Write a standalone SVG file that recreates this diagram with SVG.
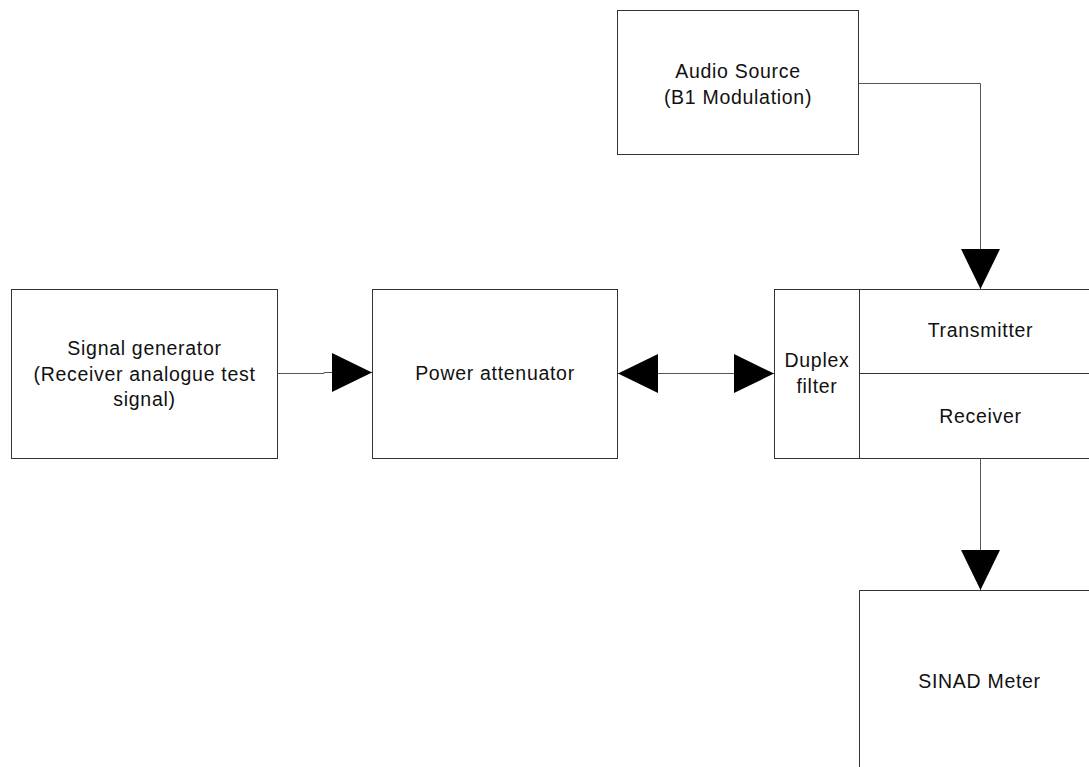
<svg xmlns="http://www.w3.org/2000/svg" width="1089" height="767" viewBox="0 0 1089 767">
<style>
  .box { fill: #ffffff; stroke: #333333; stroke-width: 1; }
  .div { fill: none; stroke: #333333; stroke-width: 1; }
  .conn { fill: none; stroke: #555555; stroke-width: 1; }
  .lbl { font-family: "Liberation Sans", Arial, sans-serif; font-size: 19.5px; letter-spacing: 0.7px; fill: #111111; text-anchor: middle; }
</style>
<defs>
  <marker id="arrow" markerUnits="userSpaceOnUse" markerWidth="40" markerHeight="39" viewBox="0 0 40 39" refX="40" refY="19.5" orient="auto-start-reverse">
    <path d="M0,0 L40,19.5 L0,39 Z" fill="#000000"/>
  </marker>
</defs>
<rect width="1089" height="767" fill="#ffffff"/>
<g id="signal-generator">
  <rect class="box" x="11.5" y="289.5" width="266" height="169"/>
  <text class="lbl" x="144.5" y="355">Signal generator</text>
  <text class="lbl" x="144.5" y="380.5">(Receiver analogue test</text>
  <text class="lbl" x="144.5" y="405.5">signal)</text>
</g>
<g id="power-attenuator">
  <rect class="box" x="372.5" y="289.5" width="245" height="169"/>
  <text class="lbl" x="495" y="380">Power attenuator</text>
</g>
<g id="audio-source">
  <rect class="box" x="617.5" y="10.5" width="241" height="144"/>
  <text class="lbl" x="738" y="78">Audio Source</text>
  <text class="lbl" x="738" y="104">(B1 Modulation)</text>
</g>
<g id="duplex-transceiver">
  <rect class="box" x="774.5" y="289.5" width="330" height="169"/>
  <path class="div" d="M859.5,289.5 V458.5 M859.5,373.5 H1104.5"/>
  <text class="lbl" x="817" y="367">Duplex</text>
  <text class="lbl" x="817" y="393">filter</text>
  <text class="lbl" x="980.5" y="337">Transmitter</text>
  <text class="lbl" x="980.5" y="422.5">Receiver</text>
</g>
<g id="sinad-meter">
  <rect class="box" x="859.5" y="590.5" width="260" height="200"/>
  <text class="lbl" x="979.5" y="688">SINAD Meter</text>
</g>
<g id="connectors">
  <path class="conn" d="M858.5,83.5 H980.5 V289" marker-end="url(#arrow)"/>
  <path class="conn" d="M277.5,373.5 H324 V372.5 H372" marker-end="url(#arrow)"/>
  <path class="conn" d="M618,373.5 H774" marker-start="url(#arrow)" marker-end="url(#arrow)"/>
  <path class="conn" d="M980.5,458.5 V590" marker-end="url(#arrow)"/>
</g>
</svg>
